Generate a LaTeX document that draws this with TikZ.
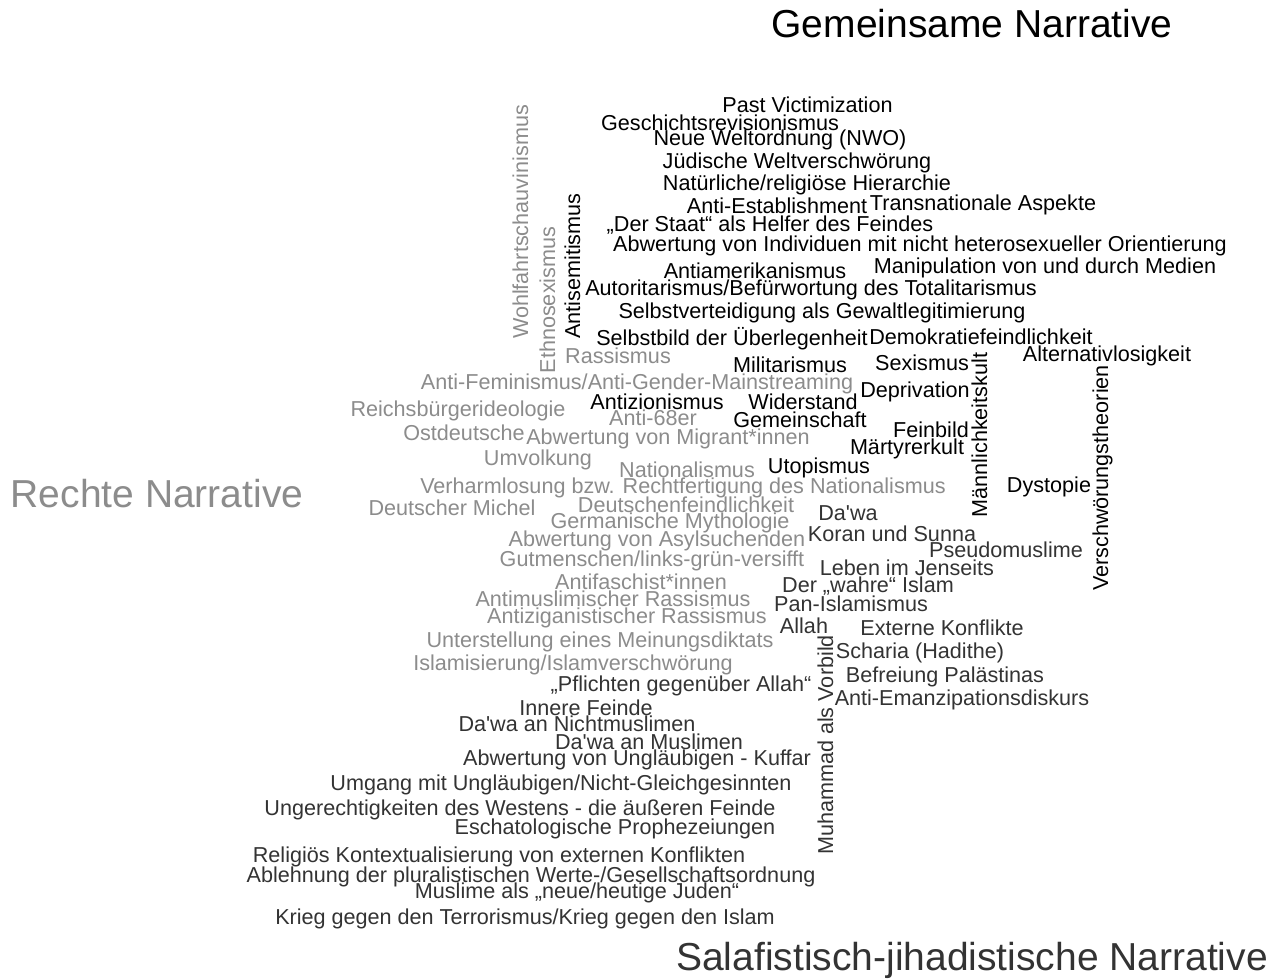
\documentclass[tikz,border=0pt]{standalone}
\usepackage{fontspec}
\setmainfont{Liberation Sans}
\definecolor{cloudcolor0000}{RGB}{0,0,0}
\definecolor{cloudcolor0001}{RGB}{140,140,140}
\definecolor{cloudcolor0002}{RGB}{51,51,51}
\newcommand{\wordsize}{\fontsize{21.6pt}{24pt}\selectfont}
\newcommand{\titlesize}{\fontsize{39pt}{44pt}\selectfont}
\begin{document}
\begin{tikzpicture}[
  yscale = -1,
  pstyle0/.style = {anchor=base,inner sep=0pt,color=cloudcolor0000,font=\wordsize},
  pstyle1/.style = {anchor=base,inner sep=0pt,color=cloudcolor0001,font=\wordsize},
  pstyle2/.style = {anchor=base,inner sep=0pt,color=cloudcolor0002,font=\wordsize},
  pstyle3/.style = {rotate=90},
  tstyle0/.style = {anchor=base,inner sep=0pt,font=\titlesize},
]
  \useasboundingbox[fill=white] (0pt,0pt) rectangle (1285pt,978pt);
  % titles
  \node (gemeinsam) at (972pt,37pt)[tstyle0,color=cloudcolor0000]{Gemeinsame Narrative};
  \node (rechts) at (157pt,507pt)[tstyle0,color=cloudcolor0001]{Rechte Narrative};
  \node (salafist) at (972pt,970pt)[tstyle0,color=cloudcolor0002]{Salafistisch-jihadistische Narrative};
  % gemeinsame Narrative
  \node (pastvict) at (807.5pt,112pt)[pstyle0]{Past Victimization};
  \node (geschrev) at (720pt,130pt)[pstyle0]{Geschichtsrevisionismus};
  \node (nwo) at (780pt,145pt)[pstyle0]{Neue Weltordnung (NWO)};
  \node (juedwelt) at (797pt,168pt)[pstyle0]{Jüdische Weltverschwörung};
  \node (hierarchie) at (807pt,190pt)[pstyle0]{Natürliche/religiöse Hierarchie};
  \node (antiestab) at (777pt,213pt)[pstyle0]{Anti-Establishment};
  \node (transnat) at (983pt,210pt)[pstyle0]{Transnationale Aspekte};
  \node (staat) at (770pt,231pt)[pstyle0]{„Der Staat“ als Helfer des Feindes};
  \node (heterosex) at (920pt,251pt)[pstyle0]{Abwertung von Individuen mit nicht heterosexueller Orientierung};
  \node (antiamerik) at (755pt,278pt)[pstyle0]{Antiamerikanismus};
  \node (medien) at (1045pt,273pt)[pstyle0]{Manipulation von und durch Medien};
  \node (totalit) at (811pt,295pt)[pstyle0]{Autoritarismus/Befürwortung des Totalitarismus};
  \node (selbstvert) at (822pt,318pt)[pstyle0]{Selbstverteidigung als Gewaltlegitimierung};
  \node (selbstbild) at (732pt,345pt)[pstyle0]{Selbstbild der Überlegenheit};
  \node (demokrat) at (981pt,344pt)[pstyle0]{Demokratiefeindlichkeit};
  \node (alternativ) at (1107pt,361pt)[pstyle0]{Alternativlosigkeit};
  \node (militar) at (790pt,372pt)[pstyle0]{Militarismus};
  \node (sexismus) at (922pt,370pt)[pstyle0]{Sexismus};
  \node (depriv) at (915pt,397pt)[pstyle0]{Deprivation};
  \node (antizion) at (657pt,409pt)[pstyle0]{Antizionismus};
  \node (widerstand) at (803pt,409pt)[pstyle0]{Widerstand};
  \node (gemeinschaft) at (800pt,427pt)[pstyle0]{Gemeinschaft};
  \node (feinbild) at (931pt,437pt)[pstyle0]{Feinbild};
  \node (maertyrer) at (907pt,454pt)[pstyle0]{Märtyrerkult};
  \node (utopismus) at (819pt,473pt)[pstyle0]{Utopismus};
  \node (dystopie) at (1049pt,492pt)[pstyle0]{Dystopie};
  \node (maennlich) at (987pt,435pt)[pstyle0,pstyle3]{Männlichkeitskult};
  \node (verschw) at (1108pt,478pt)[pstyle0,pstyle3]{Verschwörungstheorien};
  \node (antisemit) at (580pt,266pt)[pstyle0,pstyle3]{Antisemitismus};
  % rechte Narrative
  \node (wohlfahrt) at (528pt,222pt)[pstyle1,pstyle3]{Wohlfahrtschauvinismus};
  \node (ethnosex) at (555pt,300pt)[pstyle1,pstyle3]{Ethnosexismus};
  \node (rassismus) at (618pt,363pt)[pstyle1]{Rassismus};
  \node (antifemin) at (637pt,389pt)[pstyle1]{Anti-Feminismus/Anti-Gender-Mainstreaming};
  \node (reichsb) at (458pt,416pt)[pstyle1]{Reichsbürgerideologie};
  \node (anti68) at (653pt,425pt)[pstyle1]{Anti-68er};
  \node (ostdeutsch) at (464pt,440pt)[pstyle1]{Ostdeutsche};
  \node (migrant) at (668pt,444pt)[pstyle1]{Abwertung von Migrant*innen};
  \node (umvolkung) at (538pt,465pt)[pstyle1]{Umvolkung};
  \node (nationalism) at (687pt,477pt)[pstyle1]{Nationalismus};
  \node (verharml) at (683pt,493pt)[pstyle1]{Verharmlosung bzw. Rechtfertigung des Nationalismus};
  \node (michel) at (452pt,515pt)[pstyle1]{Deutscher Michel};
  \node (deutschfeind) at (686pt,512pt)[pstyle1]{Deutschenfeindlichkeit};
  \node (germanisch) at (670pt,528pt)[pstyle1]{Germanische Mythologie};
  \node (asyl) at (657pt,546pt)[pstyle1]{Abwertung von Asylsuchenden};
  \node (gutmensch) at (652pt,566pt)[pstyle1]{Gutmenschen/links-grün-versifft};
  \node (antifa) at (641pt,589pt)[pstyle1]{Antifaschist*innen};
  \node (antimuslim) at (613pt,606pt)[pstyle1]{Antimuslimischer Rassismus};
  \node (antizigan) at (627pt,623pt)[pstyle1]{Antiziganistischer Rassismus};
  \node (meinung) at (600pt,647pt)[pstyle1]{Unterstellung eines Meinungsdiktats};
  \node (islamisier) at (573pt,670pt)[pstyle1]{Islamisierung/Islamverschwörung};
  % salafistisch-jihadistische Narrative
  \node (dawa) at (848pt,520pt)[pstyle2]{Da\textquotesingle wa};
  \node (koran) at (892pt,541pt)[pstyle2]{Koran und Sunna};
  \node (pseudo) at (1006pt,557pt)[pstyle2]{Pseudomuslime};
  \node (jenseits) at (907pt,575pt)[pstyle2]{Leben im Jenseits};
  \node (wahre) at (868pt,592pt)[pstyle2]{Der „wahre“ Islam};
  \node (panislam) at (851pt,611pt)[pstyle2]{Pan-Islamismus};
  \node (allah) at (804pt,633pt)[pstyle2]{Allah};
  \node (extkonfl) at (942pt,635pt)[pstyle2]{Externe Konflikte};
  \node (scharia) at (920pt,658pt)[pstyle2]{Scharia (Hadithe)};
  \node (palaest) at (945pt,682pt)[pstyle2]{Befreiung Palästinas};
  \node (emanzip) at (962pt,705pt)[pstyle2]{Anti-Emanzipationsdiskurs};
  \node (muhammad) at (833pt,745pt)[pstyle2,pstyle3]{Muhammad als Vorbild};
  \node (pflichten) at (681pt,691pt)[pstyle2]{„Pflichten gegenüber Allah“};
  \node (innere) at (586pt,715pt)[pstyle2]{Innere Feinde};
  \node (dawanicht) at (577pt,731pt)[pstyle2]{Da\textquotesingle wa an Nichtmuslimen};
  \node (dawamusl) at (649pt,749pt)[pstyle2]{Da\textquotesingle wa an Muslimen};
  \node (kuffar) at (637pt,765pt)[pstyle2]{Abwertung von Ungläubigen - Kuffar};
  \node (umgang) at (561pt,790pt)[pstyle2]{Umgang mit Ungläubigen/Nicht-Gleichgesinnten};
  \node (westen) at (520pt,815pt)[pstyle2]{Ungerechtigkeiten des Westens - die äußeren Feinde};
  \node (eschat) at (615pt,834pt)[pstyle2]{Eschatologische Prophezeiungen};
  \node (kontext) at (499pt,862pt)[pstyle2]{Religiös Kontextualisierung von externen Konflikten};
  \node (plural) at (531pt,882pt)[pstyle2]{Ablehnung der pluralistischen Werte-/Gesellschaftsordnung};
  \node (juden) at (577pt,898pt)[pstyle2]{Muslime als „neue/heutige Juden“};
  \node (krieg) at (525pt,924pt)[pstyle2]{Krieg gegen den Terrorismus/Krieg gegen den Islam};
\end{tikzpicture}
\end{document}
